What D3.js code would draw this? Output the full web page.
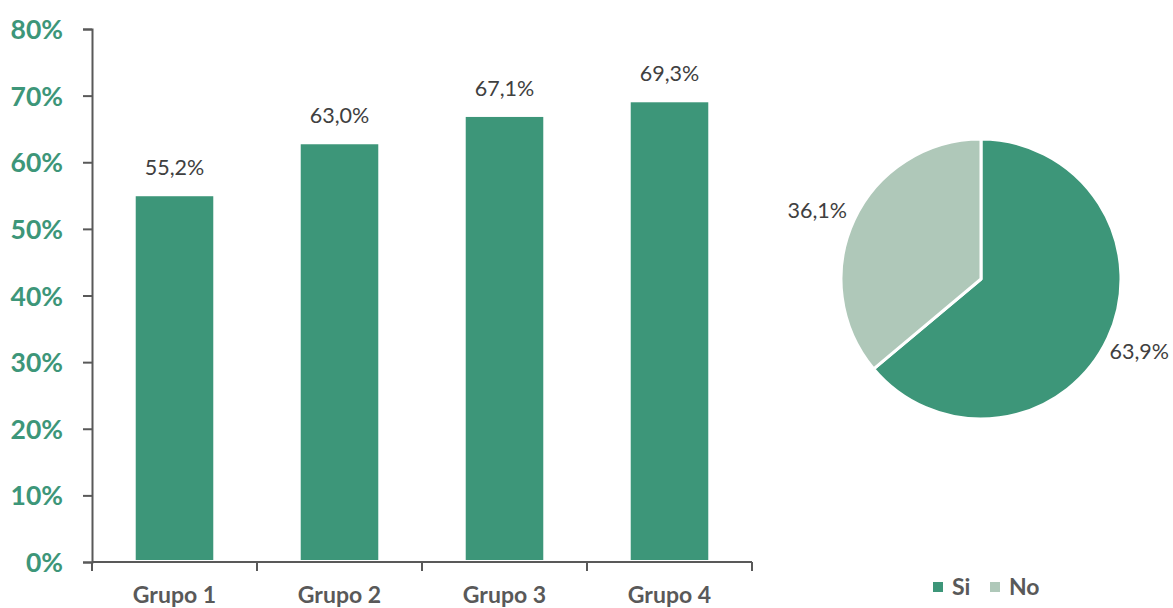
<!DOCTYPE html>
<html><head><meta charset="utf-8">
<script src="https://cdn.jsdelivr.net/npm/d3@7"></script>
<style>
html,body{margin:0;padding:0;background:#fff;}
svg{display:block;font-family:Lato, "Open Sans", sans-serif;}
</style></head>
<body>
<svg id="chart" width="1173" height="608"></svg>
<script>
const categories = ["Grupo 1", "Grupo 2", "Grupo 3", "Grupo 4"];
const barValues = [55.2, 63.0, 67.1, 69.3];
const barLabels = ["55,2%", "63,0%", "67,1%", "69,3%"];
const yTicks = [0, 10, 20, 30, 40, 50, 60, 70, 80];
const pieCategories = ["Si", "No"];
const pieValues = [63.9, 36.1];
const pieLabels = ["63,9%", "36,1%"];

const green = "#3d9679";
const light = "#afc8b9";
const axisCol = "#595959";
const textCol = "#404040";

const svg = d3.select("#chart");

// Bar chart
const x = d3.scaleBand().domain(categories).range([92, 752]).paddingInner(0.53).paddingOuter(0.265);
const y = d3.scaleLinear().domain([0, 80]).range([562, 29]);

svg.append("g").selectAll("rect").data(barValues).join("rect")
  .attr("x", (d, i) => x(categories[i]))
  .attr("width", x.bandwidth())
  .attr("y", d => y(d) + 2)
  .attr("height", d => y(0) - y(d) - 4)
  .attr("fill", green);

// y axis
const yAxis = svg.append("g").attr("transform", "translate(92,0)")
  .call(d3.axisLeft(y).tickValues(yTicks).tickSize(9).tickPadding(20).tickFormat(d => d + "%"));
yAxis.select(".domain").attr("stroke", axisCol).attr("stroke-width", 2);
yAxis.selectAll(".tick line").attr("stroke", axisCol).attr("stroke-width", 2);
yAxis.selectAll(".tick text").attr("fill", green).attr("font-size", 26.5).attr("font-weight", "bold")
  .attr("font-family", "Lato, sans-serif").attr("dy", "0.36em");

// x axis
const xBound = d3.scaleLinear().domain([0, 4]).range([92, 752]);
const xAxisG = svg.append("g");
xAxisG.append("line").attr("x1", 92).attr("x2", 752).attr("y1", y(0)).attr("y2", y(0))
  .attr("stroke", axisCol).attr("stroke-width", 2);
xAxisG.selectAll("line.tk").data(d3.range(5)).join("line").attr("class", "tk")
  .attr("x1", d => xBound(d)).attr("x2", d => xBound(d))
  .attr("y1", y(0)).attr("y2", y(0) + 9)
  .attr("stroke", axisCol).attr("stroke-width", 2);
xAxisG.selectAll("text").data(categories).join("text")
  .attr("x", d => x(d) + x.bandwidth() / 2)
  .attr("y", 603)
  .attr("text-anchor", "middle")
  .attr("font-size", 23).attr("font-weight", "bold").attr("fill", axisCol)
  .text(d => d);

// bar labels
svg.append("g").selectAll("text").data(barValues).join("text")
  .attr("x", (d, i) => x(categories[i]) + x.bandwidth() / 2)
  .attr("y", d => y(d) - 19)
  .attr("text-anchor", "middle")
  .attr("font-size", 21.5).attr("fill", textCol)
  .text((d, i) => barLabels[i]);

// Pie
const cx = 981, cy = 279, r = 140;
const pie = d3.pie().sort(null).value(d => d)(pieValues);
const arc = d3.arc().innerRadius(0).outerRadius(r);
const colors = [green, light];
const pg = svg.append("g").attr("transform", `translate(${cx},${cy})`);
pg.selectAll("path").data(pie).join("path")
  .attr("d", arc)
  .attr("fill", (d, i) => colors[i])
  .attr("stroke", "#fff").attr("stroke-width", 3).attr("stroke-linejoin", "round");

const labelPos = [[1169, 359, "end"], [847, 218, "end"]];
svg.append("g").selectAll("text").data(pie).join("text")
  .attr("x", (d, i) => labelPos[i][0])
  .attr("y", (d, i) => labelPos[i][1])
  .attr("text-anchor", (d, i) => labelPos[i][2])
  .attr("font-size", 21.5).attr("fill", textCol)
  .text((d, i) => pieLabels[i]);

// legend
const legendX = [933, 990];
const lg = svg.append("g");
pieCategories.forEach((c, i) => {
  lg.append("rect").attr("x", legendX[i]).attr("y", 582).attr("width", 10).attr("height", 10).attr("fill", colors[i]);
  lg.append("text").attr("x", legendX[i] + 19).attr("y", 595)
    .attr("font-size", 23).attr("font-weight", "bold").attr("fill", axisCol).text(c);
});
</script>
</body></html>
